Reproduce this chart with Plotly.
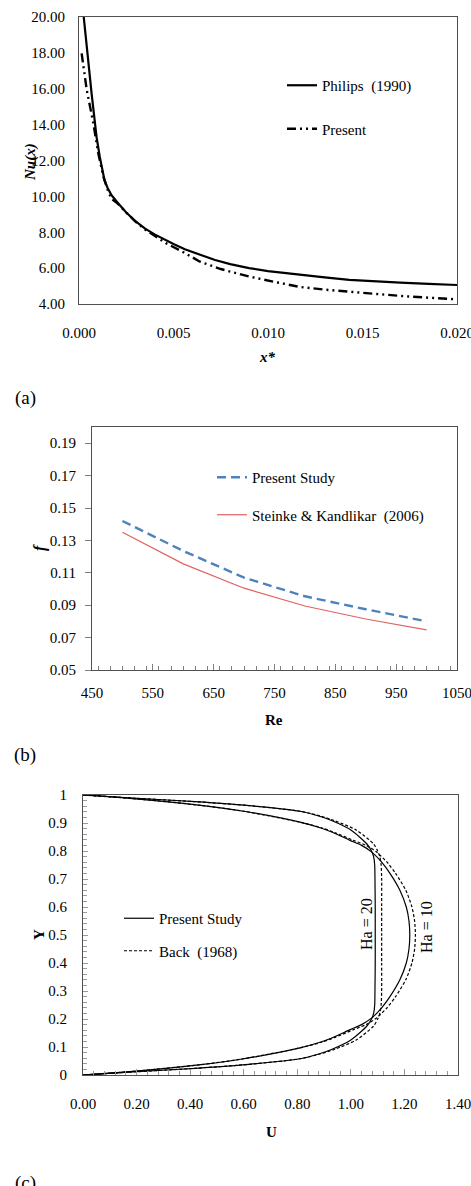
import plotly.graph_objects as go

W, H = 471, 1186

# ---------------- data: panel (a) ----------------
xa_philips = [0.00025, 0.00045, 0.00067, 0.0008, 0.00093, 0.0011, 0.0012, 0.00135, 0.0015, 0.0017,
              0.002, 0.0025, 0.003, 0.0035, 0.004, 0.0045, 0.005, 0.0056, 0.0064, 0.0072, 0.008,
              0.009, 0.010, 0.011, 0.0117, 0.013, 0.0143, 0.0155, 0.017, 0.0185, 0.020]
nu_philips = [20.0, 17.8, 15.7, 14.5, 13.3, 12.2, 11.6, 10.9, 10.5, 10.1,
              9.7, 9.1, 8.6, 8.2, 7.88, 7.6, 7.35, 7.05, 6.73, 6.45, 6.22,
              6.0, 5.83, 5.7, 5.62, 5.48, 5.35, 5.27, 5.19, 5.12, 5.06]
xa_present = [0.00014, 0.00041, 0.00076, 0.00102, 0.00129, 0.00155, 0.00173, 0.002, 0.0025, 0.003,
              0.0035, 0.004, 0.0046, 0.0055, 0.0064, 0.0075, 0.009, 0.0105, 0.0117, 0.013,
              0.0143, 0.0155, 0.017, 0.0185, 0.020]
nu_present = [17.97, 15.93, 14.07, 12.4, 11.1, 10.26, 9.85, 9.65, 9.1, 8.58,
              8.15, 7.8, 7.39, 6.9, 6.36, 5.95, 5.53, 5.2, 4.95, 4.8,
              4.68, 4.56, 4.45, 4.35, 4.26]

# ---------------- data: panel (b) ----------------
re_vals = [500, 600, 700, 800, 900, 1000]
f_present = [0.142, 0.1235, 0.107, 0.0955, 0.0875, 0.080]
f_steinke = [0.135, 0.1155, 0.1005, 0.0895, 0.0815, 0.0748]

# ---------------- data: panel (c) ----------------
y_ha20 = [1.0, 0.99, 0.976, 0.962, 0.942, 0.925, 0.908, 0.875, 0.825, 0.80, 0.78, 0.75, 0.70, 0.60, 0.50,
          0.40, 0.30, 0.25, 0.22, 0.20, 0.175, 0.125, 0.092, 0.075, 0.058, 0.038, 0.024, 0.01, 0.0]
u_ha20_present = [0, 0.17, 0.42, 0.62, 0.81, 0.88, 0.93, 1.00, 1.06, 1.077, 1.085, 1.089, 1.09, 1.091, 1.091,
                  1.091, 1.09, 1.089, 1.085, 1.077, 1.06, 1.00, 0.93, 0.88, 0.81, 0.62, 0.42, 0.17, 0]
u_ha20_back = [0, 0.17, 0.42, 0.62, 0.81, 0.885, 0.94, 1.02, 1.085, 1.10, 1.108, 1.113, 1.115, 1.115, 1.115,
               1.115, 1.115, 1.113, 1.108, 1.10, 1.085, 1.02, 0.94, 0.885, 0.81, 0.62, 0.42, 0.17, 0]
y_ha10 = [1.0, 0.988, 0.963, 0.942, 0.903, 0.883, 0.866, 0.838, 0.82, 0.797, 0.76, 0.72, 0.66, 0.60, 0.55, 0.50,
          0.45, 0.40, 0.34, 0.28, 0.24, 0.203, 0.18, 0.162, 0.134, 0.117, 0.097, 0.058, 0.037, 0.012, 0.0]
u_ha10_present = [0, 0.175, 0.44, 0.60, 0.81, 0.885, 0.933, 0.997, 1.04, 1.077, 1.115, 1.146, 1.183, 1.207, 1.217, 1.22,
                  1.217, 1.207, 1.183, 1.146, 1.115, 1.077, 1.04, 0.997, 0.933, 0.885, 0.81, 0.60, 0.44, 0.175, 0]
u_ha10_back = [0, 0.175, 0.44, 0.60, 0.81, 0.89, 0.94, 1.01, 1.057, 1.095, 1.135, 1.167, 1.205, 1.228, 1.238, 1.241,
               1.238, 1.228, 1.205, 1.167, 1.135, 1.095, 1.057, 1.01, 0.94, 0.89, 0.81, 0.60, 0.44, 0.175, 0]

FONT = "Liberation Serif, Times New Roman, serif"


def pxx(p):
    return p / W


def pxy(p):
    return 1 - p / H


fig = go.Figure()

# panel (a)
fig.add_trace(go.Scatter(x=xa_philips, y=nu_philips, mode="lines", name="Philips  (1990)",
                         line=dict(color="black", width=2.2), xaxis="x", yaxis="y",
                         legend="legend", legendgroup="a1"))
fig.add_trace(go.Scatter(x=xa_present, y=nu_present, mode="lines", name="Present",
                         line=dict(color="black", width=2.4, dash="9px,4px,2px,4px,2px,4px"),
                         xaxis="x", yaxis="y", legend="legend", legendgroup="a2"))

# panel (b)
fig.add_trace(go.Scatter(x=re_vals, y=f_present, mode="lines", name="Present Study",
                         line=dict(color="#4f81bd", width=2.4, dash="9px,5px"),
                         xaxis="x2", yaxis="y2", legend="legend2", legendgroup="b1"))
fig.add_trace(go.Scatter(x=re_vals, y=f_steinke, mode="lines", name="Steinke & Kandlikar  (2006)",
                         line=dict(color="#e06262", width=1.2),
                         xaxis="x2", yaxis="y2", legend="legend2", legendgroup="b2"))

# panel (c)
spl = dict(shape="spline", smoothing=0.7)
fig.add_trace(go.Scatter(x=u_ha20_present, y=y_ha20, mode="lines", name="Present Study",
                         line=dict(color="black", width=1.2, **spl),
                         xaxis="x3", yaxis="y3", legend="legend3", legendgroup="c1"))
fig.add_trace(go.Scatter(x=u_ha10_present, y=y_ha10, mode="lines", name="Present Study",
                         line=dict(color="black", width=1.2, **spl),
                         xaxis="x3", yaxis="y3", showlegend=False, legendgroup="c1"))
fig.add_trace(go.Scatter(x=u_ha20_back, y=y_ha20, mode="lines", name="Back  (1968)",
                         line=dict(color="black", width=1.2, dash="3px,2px", **spl),
                         xaxis="x3", yaxis="y3", legend="legend3", legendgroup="c2"))
fig.add_trace(go.Scatter(x=u_ha10_back, y=y_ha10, mode="lines", name="Back  (1968)",
                         line=dict(color="black", width=1.2, dash="3px,2px", **spl),
                         xaxis="x3", yaxis="y3", showlegend=False, legendgroup="c2"))

TF = dict(family=FONT, size=15, color="black")
axis_common = dict(showgrid=False, zeroline=False, showline=True, mirror=True,
                   linecolor="#505050", linewidth=1, tickfont=TF, automargin=False,
                   ticklabeloverflow="allow")

fig.update_layout(
    width=W, height=H, autosize=False,
    margin=dict(l=0, r=0, t=0, b=0, pad=0, autoexpand=False),
    paper_bgcolor="white", plot_bgcolor="white",
    font=dict(family=FONT, color="black"),
    xaxis=dict(domain=[pxx(79), pxx(457)], anchor="y", range=[0, 0.02],
               tickvals=[0, 0.005, 0.01, 0.015, 0.02], tickformat=".3f", ticks="",
               ticklabelstandoff=15, **axis_common),
    yaxis=dict(domain=[pxy(304), pxy(17)], anchor="x", range=[4, 20], dtick=2, tickformat=".2f",
               ticks="", ticklabelstandoff=10, **axis_common),
    xaxis2=dict(domain=[pxx(92), pxx(457)], anchor="y2", range=[450, 1050], tick0=450, dtick=100,
                ticks="inside", ticklen=6, tickcolor="#7f7f7f", ticklabelstandoff=9,
                minor=dict(dtick=20, ticks="inside", ticklen=4, tickcolor="#7f7f7f"),
                **axis_common),
    yaxis2=dict(domain=[pxy(670), pxy(427)], anchor="x2", range=[0.05, 0.20],
                tickvals=[0.05, 0.07, 0.09, 0.11, 0.13, 0.15, 0.17, 0.19], tickformat=".2f",
                ticks="outside", ticklen=6, tickcolor="#7f7f7f", ticklabelstandoff=6,
                **axis_common),
    xaxis3=dict(domain=[pxx(83), pxx(458)], anchor="y3", range=[0, 1.4], dtick=0.2, tickformat=".2f",
                ticks="inside", ticklen=6, tickcolor="#9a9a9a", ticklabelstandoff=15,
                minor=dict(dtick=0.04, ticks="inside", ticklen=4, tickcolor="#9a9a9a"),
                **axis_common),
    yaxis3=dict(domain=[pxy(1075), pxy(795)], anchor="x3", range=[0, 1], dtick=0.1,
                ticks="inside", ticklen=5, tickcolor="#9a9a9a", ticklabelstandoff=12,
                minor=dict(dtick=0.02, ticks="inside", ticklen=4, tickcolor="#9a9a9a"),
                **axis_common),
    legend=dict(x=pxx(282), y=pxy(69), xanchor="left", yanchor="top", bgcolor="rgba(0,0,0,0)",
                font=dict(family=FONT, size=15, color="black"), tracegroupgap=21, itemwidth=30),
    legend2=dict(x=pxx(212), y=pxy(461), xanchor="left", yanchor="top", bgcolor="rgba(0,0,0,0)",
                 font=dict(family=FONT, size=15, color="black"), tracegroupgap=15, itemwidth=30),
    legend3=dict(x=pxx(119), y=pxy(902), xanchor="left", yanchor="top", bgcolor="rgba(0,0,0,0)",
                 font=dict(family=FONT, size=15, color="black"), tracegroupgap=10, itemwidth=30),
)

annotations = [
    dict(text="<b><i>Nu(x)</i></b>", x=pxx(30), y=pxy(162), textangle=-90, size=15),
    dict(text="<b><i>x*</i></b>", x=pxx(267), y=pxy(357), size=15),
    dict(text="(a)", x=pxx(25), y=pxy(398), size=19),
    dict(text="<b><i>f</i></b>", x=pxx(40), y=pxy(548), textangle=-90, size=16),
    dict(text="<b>Re</b>", x=pxx(274), y=pxy(720), size=15),
    dict(text="(b)", x=pxx(25), y=pxy(755), size=19),
    dict(text="<b>Y</b>", x=pxx(39), y=pxy(935), textangle=-90, size=15),
    dict(text="<b>U</b>", x=pxx(271), y=pxy(1132), size=15),
    dict(text="(c)", x=pxx(25), y=pxy(1183), size=19),
    dict(text="Ha = 20", x=pxx(366), y=pxy(924), textangle=-90, size=16),
    dict(text="Ha = 10", x=pxx(427), y=pxy(927), textangle=-90, size=16),
]
for a in annotations:
    size = a.pop("size")
    fig.add_annotation(xref="paper", yref="paper", showarrow=False, xanchor="center", yanchor="middle",
                       font=dict(family=FONT, size=size, color="black"), **a)

# remove the page's default body margin and scrollbars so the fixed-size figure fills the window
fig.write_html(
    "out.html",
    config={"displayModeBar": False},
    post_script="document.body.style.margin='0px';"
                "document.body.style.overflow='hidden';"
                "document.documentElement.style.overflow='hidden';",
)
